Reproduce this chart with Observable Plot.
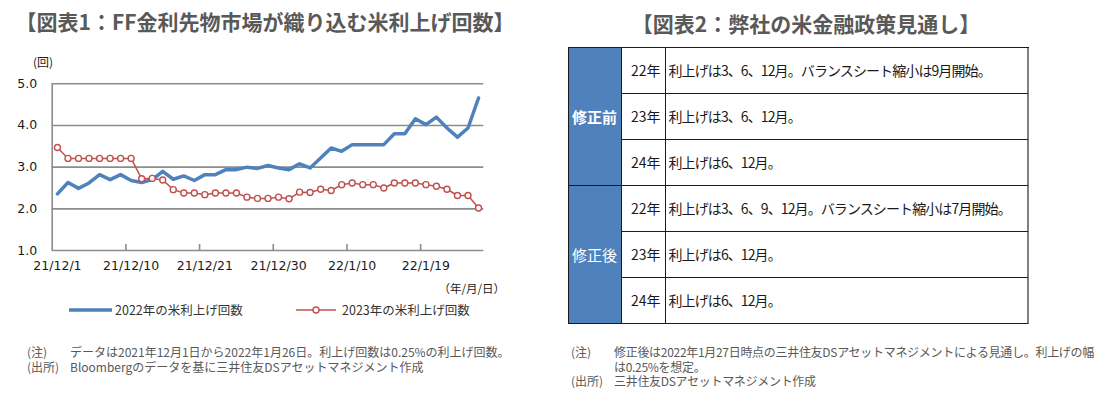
<!DOCTYPE html>
<html><head><meta charset="utf-8">
<script src="https://cdn.jsdelivr.net/npm/d3@7"></script>
<script src="https://cdn.jsdelivr.net/npm/@observablehq/plot@0.6"></script>
<style>
body{margin:0;background:#fff;font-family:"Noto Sans CJK JP","Noto Sans",sans-serif;}
#page{position:relative;width:1099px;height:397px;overflow:hidden;background:#fff;}
.abs{position:absolute;white-space:nowrap;}
.title{font-size:21px;font-weight:bold;color:#595959;line-height:28px;}
.note{font-size:12px;color:#595959;line-height:14.5px;white-space:pre;}
.leg{font-size:12.5px;color:#333;line-height:16px;}
#chart1{position:absolute;left:0;top:0;}
#tbl{position:absolute;left:567.5px;top:46.5px;display:grid;grid-template-columns:53px 44px 363px;grid-template-rows:repeat(6,46px);border-top:1.5px solid #1a1a1a;border-left:1.5px solid #1a1a1a;font-size:14px;color:#1a1a1a;}
#tbl div{box-sizing:border-box;border-right:1.5px solid #1a1a1a;border-bottom:1.5px solid #1a1a1a;display:flex;align-items:center;white-space:nowrap;}
#tbl .grp{background:#4f81bd;color:#fff;justify-content:center;font-size:15px;}
#tbl .yr{justify-content:flex-end;padding-right:4px;}
#tbl .txt{padding-left:3px;letter-spacing:-0.9px;border-right:2px solid #808080;}
</style></head><body>
<div id="page">
  <div class="abs title" style="left:265px;top:7px;transform:translateX(-50%)">【図表1：FF金利先物市場が織り込む米利上げ回数】</div>
  <div class="abs title" style="left:806px;top:9px;transform:translateX(-50%)">【図表2：弊社の米金融政策見通し】</div>
  <div id="chart1"></div>
  <div class="abs" style="left:33px;top:54px;font-size:12px;color:#1a1a1a;line-height:16px">(回)</div>
  <div class="abs" style="right:594px;top:280px;font-size:11.5px;color:#1a1a1a;line-height:16px">（年/月/日）</div>
  <div id="legend"></div>
  <div class="abs note" style="left:27px;top:345px" id="l1"></div>
  <div class="abs note" style="left:70px;top:345px" id="n1"></div>
  <div id="tbl"></div>
  <div class="abs note" style="left:571px;top:345px" id="l2"></div>
  <div class="abs note" style="left:614px;top:345px;letter-spacing:-0.3px" id="n2"></div>
</div>
<script>
// ---- data ----
const dates = ["21/12/1","21/12/2","21/12/3","21/12/6","21/12/7","21/12/8","21/12/9","21/12/10","21/12/13","21/12/14","21/12/15","21/12/16","21/12/17","21/12/20","21/12/21","21/12/22","21/12/23","21/12/24","21/12/27","21/12/28","21/12/29","21/12/30","21/12/31","22/1/3","22/1/4","22/1/5","22/1/6","22/1/7","22/1/10","22/1/11","22/1/12","22/1/13","22/1/14","22/1/17","22/1/18","22/1/19","22/1/20","22/1/21","22/1/24","22/1/25","22/1/26"];
const hikes2022 = [2.36,2.63,2.49,2.62,2.82,2.70,2.82,2.68,2.63,2.70,2.90,2.71,2.79,2.68,2.82,2.82,2.94,2.94,3.00,2.97,3.04,2.98,2.94,3.08,2.98,3.22,3.46,3.38,3.54,3.54,3.54,3.54,3.80,3.80,4.16,4.02,4.20,3.94,3.72,3.94,4.66];
const hikes2023 = [3.47,3.21,3.21,3.21,3.21,3.21,3.21,3.21,2.72,2.73,2.69,2.46,2.38,2.38,2.34,2.38,2.38,2.38,2.28,2.25,2.25,2.28,2.24,2.40,2.39,2.47,2.44,2.58,2.62,2.58,2.58,2.50,2.62,2.62,2.62,2.58,2.54,2.47,2.32,2.32,2.02];
const xTickLabels = ["21/12/1","21/12/10","21/12/21","21/12/30","22/1/10","22/1/19"];
const yTicks = [1,2,3,4,5];
const seriesNames = ["2022年の米利上げ回数","2023年の米利上げ回数"];
const tableGroups = ["修正前","修正後"];
const tableYears = ["22年","23年","24年"];
const tableBefore = ["利上げは3、6、12月。バランスシート縮小は9月開始。","利上げは3、6、12月。","利上げは6、12月。"];
const tableAfter = ["利上げは3、6、9、12月。バランスシート縮小は7月開始。","利上げは6、12月。","利上げは6、12月。"];
const notes1Labels = ["(注)","(出所)"];
const notes1 = ["データは2021年12月1日から2022年1月26日。利上げ回数は0.25%の利上げ回数。","Bloombergのデータを基に三井住友DSアセットマネジメント作成"];
const notes2Labels = ["(注)","","(出所)"];
const notes2 = ["修正後は2022年1月27日時点の三井住友DSアセットマネジメントによる見通し。利上げの幅","は0.25%を想定。","三井住友DSアセットマネジメント作成"];

// ---- chart ----
const blue = "#4f81bd", red = "#c0504d", grid = "#8c8c8c";
const rows = dates.map((d, i) => ({i, date: d, v22: hikes2022[i], v23: hikes2023[i]}));
const tickIdx = xTickLabels.map(l => dates.indexOf(l));
const chart = Plot.plot({
  width: 540, height: 300,
  marginLeft: 51.7, marginRight: 56.7, marginTop: 83.3, marginBottom: 50,
  style: {fontFamily: "'DejaVu Sans', Verdana, sans-serif", fontSize: "12.5px", color: "#1a1a1a", background: "transparent"},
  x: {domain: [-0.5, dates.length - 0.5], label: null},
  y: {domain: [1, 5], label: null},
  marks: [
    Plot.ruleY(yTicks.filter(v => v > 1), {stroke: grid, strokeWidth: 1.6}),
    Plot.ruleY([1], {stroke: grid, strokeWidth: 1.6}),
    Plot.ruleX([-0.5], {stroke: grid, strokeWidth: 1.6}),
    Plot.ruleX(tickIdx.slice(1).map(i => i - 0.5), {y1: 1, y2: 1, insetBottom: 6, stroke: grid, strokeWidth: 1.6}),
    Plot.axisY({ticks: yTicks, tickFormat: d3.format(".1f"), tickSize: 0, tickPadding: 15, label: null}),
    Plot.axisX({ticks: tickIdx, tickFormat: i => dates[i], tickSize: 0, tickPadding: 11, label: null}),
    Plot.line(rows, {x: "i", y: "v22", stroke: blue, strokeWidth: 3.5, strokeLinejoin: "round"}),
    Plot.line(rows, {x: "i", y: "v23", stroke: red, strokeWidth: 1.5}),
    Plot.dot(rows, {x: "i", y: "v23", r: 3, fill: "white", stroke: red, strokeWidth: 1.4})
  ]
});
document.getElementById("chart1").append(chart);

// ---- legend ----
const lg = document.getElementById("legend");
lg.innerHTML = `
<svg class="abs" style="left:0;top:300px" width="540" height="20">
  <line x1="69" x2="112" y1="10" y2="10" stroke="${blue}" stroke-width="3.5"/>
  <line x1="296" x2="336" y1="10" y2="10" stroke="${red}" stroke-width="1.5"/>
  <circle cx="316" cy="10" r="3" fill="white" stroke="${red}" stroke-width="1.4"/>
</svg>
<div class="abs leg" style="left:115px;top:302px">${seriesNames[0]}</div>
<div class="abs leg" style="left:342px;top:302px">${seriesNames[1]}</div>`;

// ---- notes ----
document.getElementById("l1").textContent = notes1Labels.join("\n");
document.getElementById("n1").textContent = notes1.join("\n");
document.getElementById("l2").textContent = notes2Labels.join("\n");
document.getElementById("n2").textContent = notes2.join("\n");

// ---- table ----
const tbl = document.getElementById("tbl");
[tableBefore, tableAfter].forEach((texts, g) => {
  texts.forEach((t, r) => {
    if (r === 0) {
      const c = document.createElement("div");
      c.className = "grp";
      c.textContent = tableGroups[g];
      c.style.fontWeight = g === 0 ? "bold" : "normal";
      c.style.gridRow = `${g * 3 + 1} / span 3`;
      c.style.gridColumn = "1";
      tbl.append(c);
    }
    const y = document.createElement("div");
    y.className = "yr"; y.textContent = tableYears[r];
    y.style.gridRow = `${g * 3 + r + 1}`; y.style.gridColumn = "2";
    const x = document.createElement("div");
    x.className = "txt"; x.textContent = t;
    x.style.gridRow = `${g * 3 + r + 1}`; x.style.gridColumn = "3";
    tbl.append(y, x);
  });
});
</script>
</body></html>
